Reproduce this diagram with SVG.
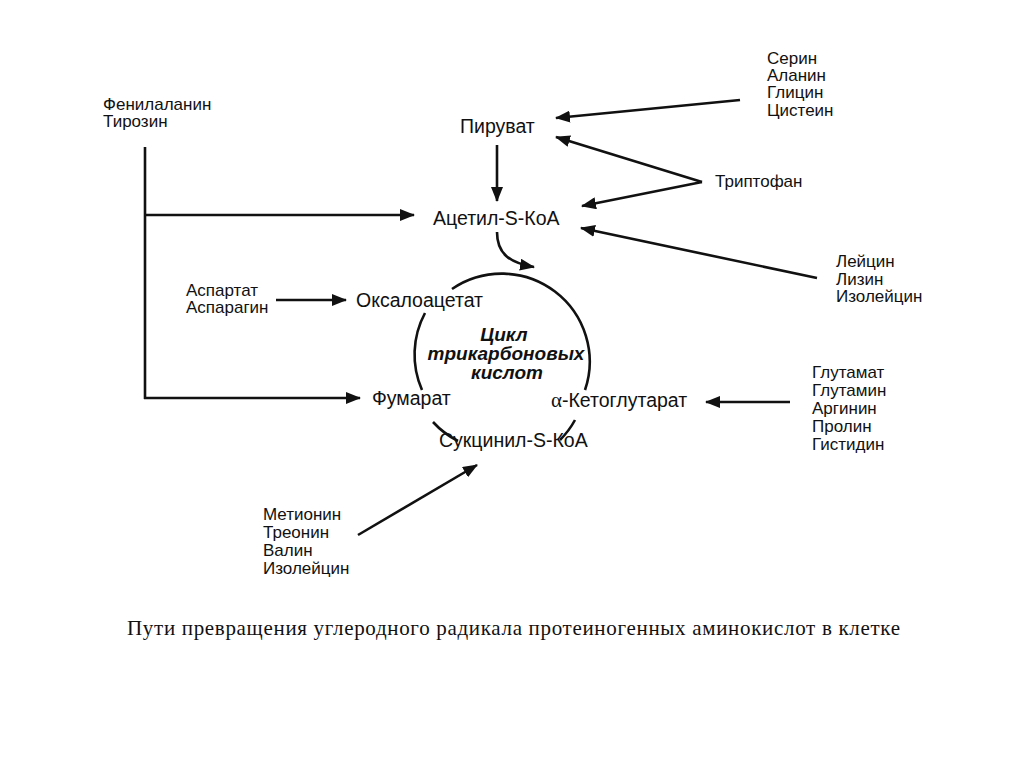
<svg xmlns="http://www.w3.org/2000/svg" width="1024" height="767" viewBox="0 0 1024 767">
<style>
.lbl{font-family:"Liberation Sans",Arial,sans-serif;font-size:17px;fill:#111}
.main{font-family:"Liberation Sans",Arial,sans-serif;font-size:19.5px;fill:#111}
.cyc{font-family:"Liberation Sans",Arial,sans-serif;font-size:19px;font-weight:bold;font-style:italic;fill:#111;text-anchor:middle}
.cap{font-family:"Liberation Serif","Times New Roman",serif;font-size:21px;fill:#111}
.ln{stroke:#111;stroke-width:2.6;fill:none}
.ar{stroke:#111;stroke-width:2.6;fill:none;marker-end:url(#ah)}
</style>
<defs>
<marker id="ah" markerUnits="userSpaceOnUse" markerWidth="16" markerHeight="12" refX="14" refY="6" orient="auto">
<path d="M0,0 L15,6 L0,12 z" fill="#111"/>
</marker>
</defs>
<rect width="1024" height="767" fill="#fff"/>

<g id="connectors">
<line class="ar" x1="740" y1="100" x2="556" y2="118"/>
<line class="ar" x1="702" y1="182" x2="556" y2="137"/>
<line class="ar" x1="702" y1="182" x2="582" y2="206"/>
<line class="ar" x1="817" y1="278" x2="581" y2="228"/>
<line class="ar" x1="497" y1="145" x2="497" y2="201"/>
<line class="ln" x1="145" y1="147" x2="145" y2="399"/>
<line class="ar" x1="144" y1="215" x2="414" y2="215"/>
<line class="ar" x1="144" y1="398" x2="360" y2="398"/>
<line class="ar" x1="276" y1="300" x2="346" y2="300"/>
<line class="ar" x1="790" y1="402" x2="706" y2="402"/>
<line class="ar" x1="358" y1="535" x2="477" y2="465"/>
<path class="ar" d="M497,232 C497,254 510,263 534,267"/>
</g>

<g id="cycle">
<path class="ln" d="M452,289 A88,88 0 0 1 585,390"/>
<path class="ln" d="M422,390 A88,88 0 0 1 425,313"/>
<path class="ln" d="M458,441 A88,88 0 0 1 433,422"/>
<path class="ln" d="M575,420 A88,88 0 0 1 560,440"/>
<text class="cyc" x="504" y="341">Цикл</text>
<text class="cyc" x="506" y="360">трикарбоновых</text>
<text class="cyc" x="507" y="379">кислот</text>
</g>

<g id="phe"><text class="lbl" x="103" y="110">Фенилаланин</text><text class="lbl" x="103" y="127">Тирозин</text></g>
<g id="pyruvate"><text class="main" x="460" y="133">Пируват</text></g>
<g id="acetyl"><text class="main" x="433" y="225">Ацетил-S-КоА</text></g>
<g id="ser"><text class="lbl" x="767" y="64">Серин</text><text class="lbl" x="767" y="81">Аланин</text><text class="lbl" x="767" y="98">Глицин</text><text class="lbl" x="767" y="116">Цистеин</text></g>
<g id="trp"><text class="lbl" x="715" y="187">Триптофан</text></g>
<g id="leu"><text class="lbl" x="836" y="267">Лейцин</text><text class="lbl" x="836" y="285">Лизин</text><text class="lbl" x="836" y="302">Изолейцин</text></g>
<g id="asp"><text class="lbl" x="186" y="296">Аспартат</text><text class="lbl" x="186" y="313">Аспарагин</text></g>
<g id="oxaloacetate"><text class="main" x="356" y="307">Оксалоацетат</text></g>
<g id="fumarate"><text class="main" x="372" y="405">Фумарат</text></g>
<g id="akg"><text class="main" x="551" y="407"><tspan font-family="Liberation Serif,serif" font-size="21">α</tspan>-Кетоглутарат</text></g>
<g id="succinyl"><text class="main" x="439" y="447">Сукцинил-S-КоА</text></g>
<g id="glu"><text class="lbl" x="812" y="378">Глутамат</text><text class="lbl" x="812" y="396">Глутамин</text><text class="lbl" x="812" y="414">Аргинин</text><text class="lbl" x="812" y="432">Пролин</text><text class="lbl" x="812" y="450">Гистидин</text></g>
<g id="met"><text class="lbl" x="263" y="520">Метионин</text><text class="lbl" x="263" y="538">Треонин</text><text class="lbl" x="263" y="556">Валин</text><text class="lbl" x="263" y="574">Изолейцин</text></g>

<text class="cap" x="127" y="635" textLength="773">Пути превращения углеродного радикала протеиногенных аминокислот в клетке</text>
</svg>
